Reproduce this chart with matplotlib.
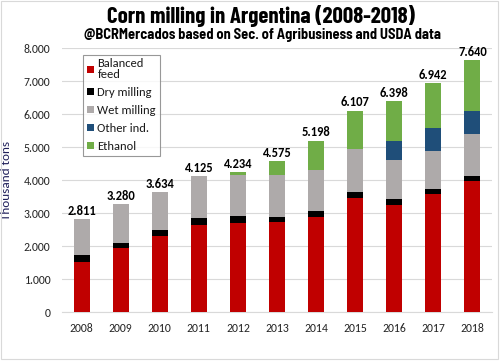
import matplotlib
matplotlib.use("Agg")
import matplotlib.pyplot as plt
from matplotlib.patches import Rectangle
from matplotlib.ticker import FuncFormatter
import numpy as np

plt.rcParams["font.family"] = ["Carlito", "Liberation Sans", "DejaVu Sans"]

years = ["2008", "2009", "2010", "2011", "2012", "2013", "2014", "2015", "2016", "2017", "2018"]
balanced_feed = [1515, 1940, 2310, 2640, 2700, 2720, 2890, 3455, 3240, 3570, 3970]
dry_milling = [212, 150, 172, 222, 210, 165, 170, 190, 182, 150, 150]
wet_milling = [1084, 1190, 1152, 1263, 1242, 1275, 1243, 1294, 1174, 1159, 1274]
other_ind = [0, 0, 0, 0, 0, 0, 0, 0, 596, 707, 707]
ethanol = [0, 0, 0, 0, 82, 415, 895, 1168, 1206, 1356, 1539]
totals = [2811, 3280, 3634, 4125, 4234, 4575, 5198, 6107, 6398, 6942, 7640]

series = [
    ("Balanced\nfeed", balanced_feed, "#C00000"),
    ("Dry milling", dry_milling, "#000000"),
    ("Wet milling", wet_milling, "#AEAAAA"),
    ("Other ind.", other_ind, "#1F4E79"),
    ("Ethanol", ethanol, "#70AD47"),
]

fig = plt.figure(figsize=(5.0, 3.62), dpi=100)
ax = fig.add_axes([0.124, 0.138, 0.86, 0.729])

x = np.arange(len(years))
bottom = np.zeros(len(years))
handles = []
for name, vals, col in series:
    vals = np.array(vals, dtype=float)
    b = ax.bar(x, vals, bottom=bottom, width=0.41, color=col, label=name, zorder=3)
    handles.append(b)
    bottom += vals

for xi, t in zip(x, totals):
    ax.text(xi, t + 70, f"{t:,}".replace(",", "."), ha="center", va="bottom",
            fontsize=9, fontweight="bold", color="#000000")

ax.set_xlim(-0.5, len(years) - 0.5)
ax.set_ylim(0, 8000)
ax.set_yticks(np.arange(0, 8001, 1000))
ax.yaxis.set_major_formatter(FuncFormatter(lambda v, p: f"{int(v):,}".replace(",", ".")))
ax.set_xticks(x)
ax.set_xticklabels(years)
ax.tick_params(axis="both", length=0, labelsize=8.5, colors="#262626")
ax.tick_params(axis="y", pad=8.5)
ax.tick_params(axis="x", pad=8)
ax.grid(axis="y", color="#D9D9D9", linewidth=0.8, zorder=0)
for s in ["top", "right", "left"]:
    ax.spines[s].set_visible(False)
ax.spines["bottom"].set_color("#D9D9D9")
ax.set_ylabel("Thousand tons", fontsize=9.5, color="#1F1F5A")
ax.yaxis.set_label_coords(-0.116, 0.5)

leg = ax.legend(handles=handles, loc="upper left", bbox_to_anchor=(0.049, 0.975),
                fontsize=9, frameon=True, fancybox=False, handlelength=0.55,
                handleheight=0.55, handletextpad=0.3, labelspacing=0.56,
                borderpad=0.3, borderaxespad=0)
leg.get_frame().set_edgecolor("#7F7F7F")
leg.get_frame().set_linewidth(0.8)
for t in leg.get_texts():
    t.set_color("#1a1a1a")
    t.set_linespacing(0.95)

fig.text(0.522, 0.957, "Corn milling in Argentina (2008-2018)", ha="center", va="center",
         fontsize=16.5, fontweight="bold", family=["Barlow Condensed", "DejaVu Sans"])
fig.text(0.524, 0.902, "@BCRMercados based on Sec. of Agribusiness and USDA data",
         ha="center", va="center", fontsize=10.4, fontweight="bold",
         family=["Barlow Semi Condensed", "DejaVu Sans"])

fig.patches.append(Rectangle((0.002, 0.008), 0.994, 0.99, transform=fig.transFigure,
                             fill=False, edgecolor="#D9D9D9", linewidth=0.8))

fig.savefig("out.png", dpi=100)
